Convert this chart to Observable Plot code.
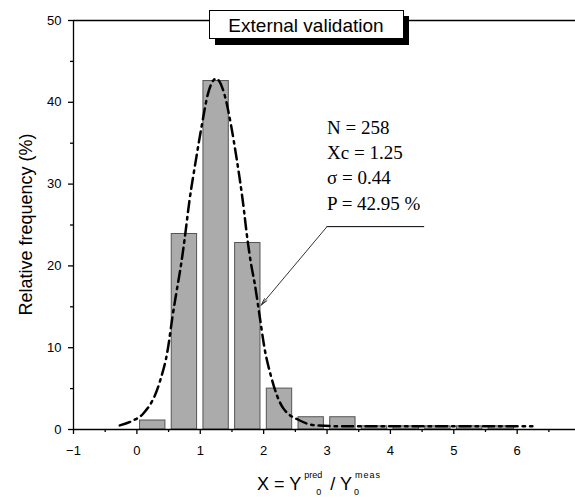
<!DOCTYPE html>
<html><head><meta charset="utf-8">
<script src="https://cdn.jsdelivr.net/npm/d3@7"></script>
<script src="https://cdn.jsdelivr.net/npm/@observablehq/plot@0.6"></script>
<style>body{margin:0;background:#fff} svg{display:block}</style>
</head><body><div id="chart"></div>
<script>
// Histogram bins (centre of 0.5-wide bins) and relative frequency (%)
const binCenters = [0.25, 0.75, 1.25, 1.75, 2.25, 2.75, 3.25, 3.75, 4.25, 4.75, 5.25, 5.75];
const frequencies = [1.1, 23.9, 42.6, 22.8, 5.0, 1.5, 1.5, 0.39, 0.39, 0.39, 0.39, 0.39];
// Fitted Gaussian curve
const curveX = [-0.27, -0.06, 0.095, 0.36, 0.49, 0.56, 0.62, 0.70, 0.75, 0.83, 0.93, 1.02, 1.12, 1.25, 1.38, 1.49, 1.57, 1.67, 1.75, 1.80, 1.86, 1.94, 2.01, 2.12, 2.30, 2.57, 2.83, 3.2, 4.0, 5.0, 6.24];
const curveY = [0.5, 1.1, 1.9, 5.8, 9.9, 13.7, 16.6, 20.3, 23.1, 28.0, 32.9, 37.0, 41.0, 42.9, 41.0, 37.0, 33.3, 28.0, 22.9, 20.3, 17.8, 13.7, 10.1, 6.4, 2.7, 1.1, 0.5, 0.4, 0.4, 0.4, 0.4];
// Tick values
const xMajorTicks = [-1, 0, 1, 2, 3, 4, 5, 6];
const xMinorTicks = [-0.5, 0.5, 1.5, 2.5, 3.5, 4.5, 5.5, 6.5];
const yMajorTicks = [0, 10, 20, 30, 40, 50];
const yMinorTicks = [5, 15, 25, 35, 45];
// Texts
const titleText = "External validation";
const statsLines = ["N = 258", "Xc = 1.25", "σ = 0.44", "P = 42.95 %"];
const yLabel = "Relative frequency (%)";

const bars = binCenters.map((c, i) => ({x1: c - 0.2, x2: c + 0.2, y: frequencies[i]}));
const curve = curveX.map((x, i) => ({x, y: curveY[i]}));

const W = 575, H = 498;
const sans = "'Liberation Sans', Arial, sans-serif";
const serif = "'Liberation Serif', 'Times New Roman', serif";

const plot = Plot.plot({
  width: W, height: H,
  marginLeft: 73, marginRight: 0, marginTop: 20, marginBottom: 69,
  style: {fontFamily: sans, fontSize: "13px", background: "#fff", color: "#000"},
  x: {domain: [-1, 6.92]},
  y: {domain: [0, 50]},
  marks: [
    Plot.rectY(bars, {x1: "x1", x2: "x2", y: "y", fill: "#ababab", stroke: "#555", strokeWidth: 1}),
    Plot.line(curve, {x: "x", y: "y", curve: "monotone-x", stroke: "#000", strokeWidth: 2.5, strokeDasharray: "11,5,2.5,5"}),
    Plot.ruleY([0], {stroke: "#000", strokeWidth: 1.3}),
    Plot.ruleY([50], {stroke: "#000", strokeWidth: 1.3}),
    Plot.ruleX([-1], {stroke: "#000", strokeWidth: 1.3}),
    Plot.axisX({ticks: xMajorTicks, tickSize: 5, tickPadding: 11, label: null, fontSize: 13, strokeWidth: 1.3}),
    Plot.axisX({ticks: xMinorTicks, tickSize: 3, tickFormat: () => "", label: null, strokeWidth: 1.3}),
    Plot.axisY({ticks: yMajorTicks, tickSize: 5, tickPadding: 7, label: null, fontSize: 13, strokeWidth: 1.3}),
    Plot.axisY({ticks: yMinorTicks, tickSize: 3, tickFormat: () => "", label: null, strokeWidth: 1.3}),
    // annotation
    Plot.text(statsLines, {x: 3.0, y: (d, i) => 36.1 - i * 3.07, text: d => d, textAnchor: "start", lineAnchor: "bottom", fontFamily: serif, fontSize: 19, fill: "#000"}),
    Plot.ruleY([24.8], {x1: 3.0, x2: 4.54, stroke: "#000", strokeWidth: 1}),
    Plot.arrow([0], {x1: 3.0, y1: 24.8, x2: 1.96, y2: 15.2, stroke: "#333", strokeWidth: 1, headLength: 11, headAngle: 25})
  ]
});
document.getElementById("chart").appendChild(plot);

const svg = d3.select(plot);
// Title box with shadow
const g = svg.append("g");
g.append("rect").attr("x", 215).attr("y", 16).attr("width", 194).attr("height", 29).attr("fill", "#000");
g.append("rect").attr("x", 209.5).attr("y", 10.5).attr("width", 194).attr("height", 28).attr("fill", "#fff").attr("stroke", "#000").attr("stroke-width", 1);
g.append("text").attr("x", 306).attr("y", 32).attr("text-anchor", "middle")
  .attr("font-family", sans).attr("font-size", 19).text(titleText);

// Y label
svg.append("text").attr("transform", "translate(32,224.5) rotate(-90)").attr("text-anchor", "middle")
  .attr("font-family", sans).attr("font-size", 18).text(yLabel);

// X label: X = Y0^pred / Y0^meas
const xl = svg.append("text").attr("x", 257).attr("y", 490).attr("text-anchor", "start").attr("font-family", sans).attr("font-size", 18);
xl.append("tspan").text("X = Y");
xl.append("tspan").attr("font-size", 9).attr("dy", -12).attr("dx", 3).text("pred");
xl.append("tspan").attr("font-size", 9).attr("dy", 17).attr("dx", -6).text("0");
xl.append("tspan").attr("dy", -5).attr("dx", 9).text("/ Y");
xl.append("tspan").attr("font-size", 9).attr("dy", -12).attr("dx", 3).attr("letter-spacing", 1).text("meas");
xl.append("tspan").attr("font-size", 9).attr("dy", 17).attr("dx", -27).text("0");
</script></body></html>
